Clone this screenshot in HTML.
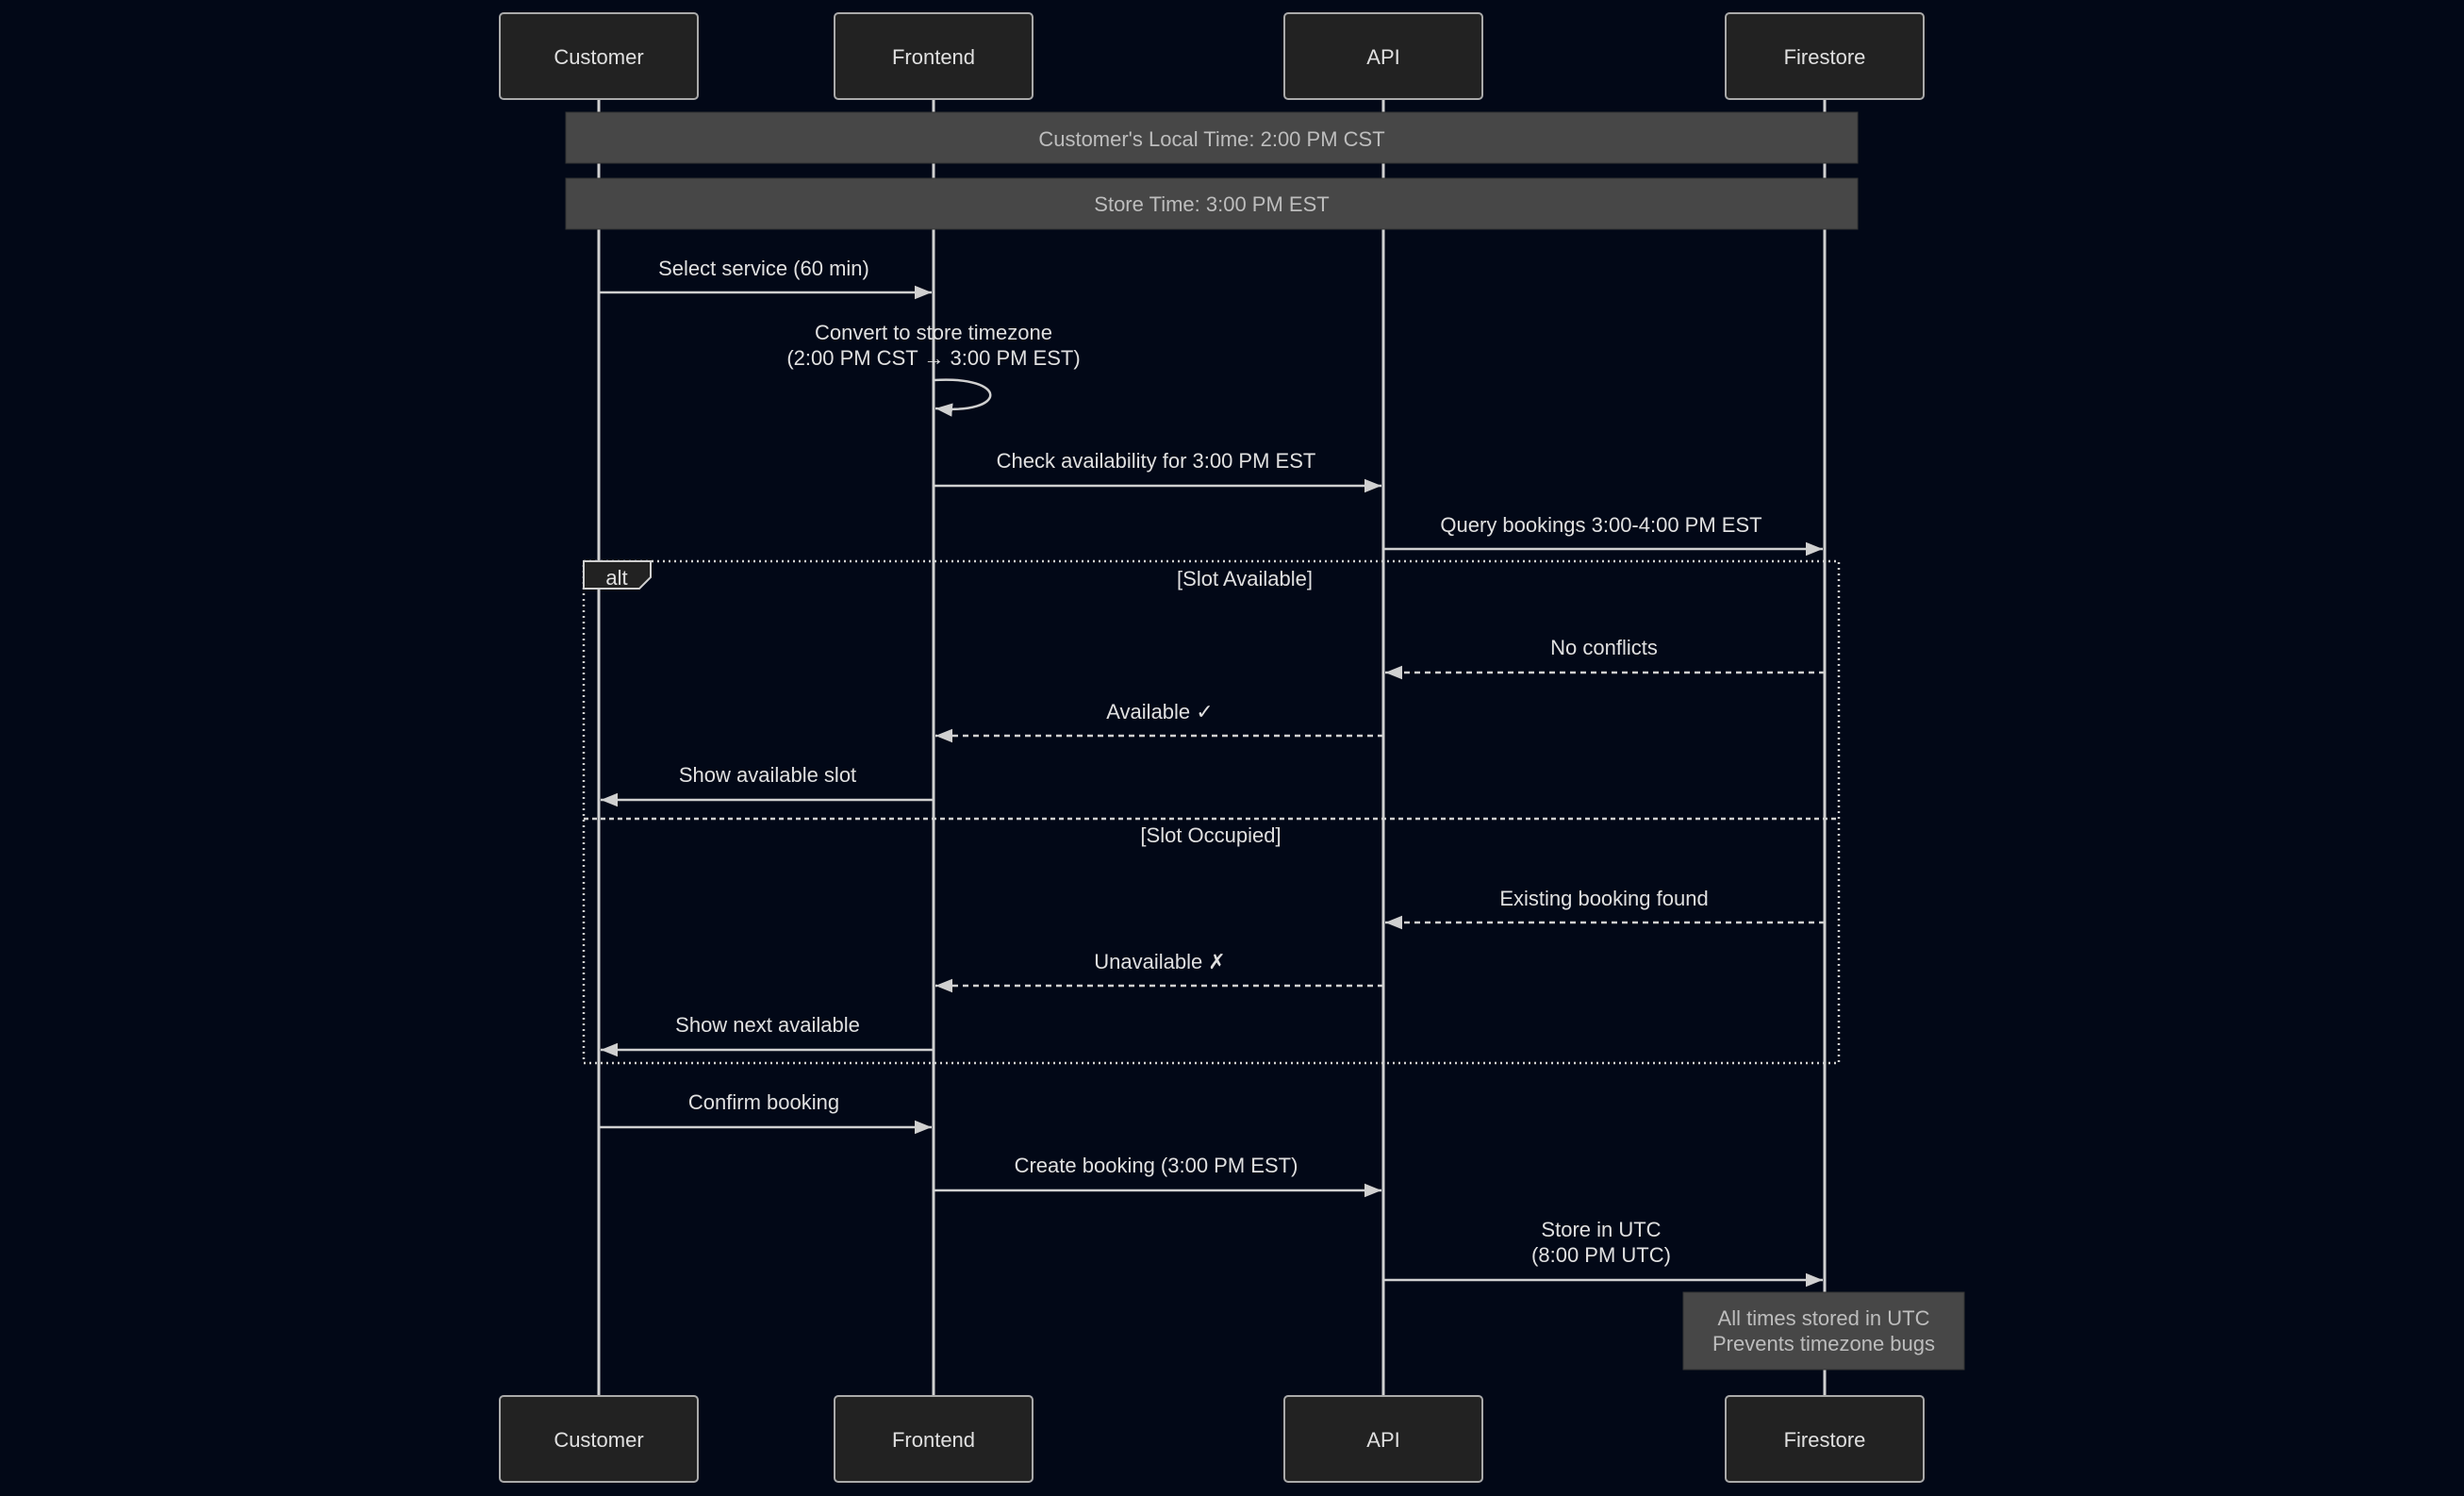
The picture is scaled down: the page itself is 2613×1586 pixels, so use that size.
<!DOCTYPE html>
<html><head><meta charset="utf-8"><style>
html,body{margin:0;padding:0;background:#020817;}
svg{display:block}
text{font-family:"Liberation Sans","DejaVu Sans",sans-serif;font-size:22px;fill:#e0e0e0;text-anchor:middle;}
.n{fill:#bdbdbd}
</style></head><body>
<svg width="2613" height="1586" viewBox="0 0 2613 1586" xmlns="http://www.w3.org/2000/svg">
<defs>
<marker id="b" viewBox="0 0 20 20" refX="20" refY="10" markerWidth="18" markerHeight="18" markerUnits="userSpaceOnUse" orient="auto"><path d="M0,2L20,10L0,18z" fill="#d0d0d0"/></marker>
</defs>
<rect width="2613" height="1586" fill="#020817"/>
<g stroke="#d0d0d0" stroke-width="3">
<line x1="635" y1="105" x2="635" y2="1480"/>
<line x1="990" y1="105" x2="990" y2="1480"/>
<line x1="1467" y1="105" x2="1467" y2="1480"/>
<line x1="1935" y1="105" x2="1935" y2="1480"/>
</g>
<g fill="#222222" stroke="#aaaaaa" stroke-width="2">
<rect x="530" y="14" width="210" height="91" rx="4"/>
<rect x="885" y="14" width="210" height="91" rx="4"/>
<rect x="1362" y="14" width="210" height="91" rx="4"/>
<rect x="1830" y="14" width="210" height="91" rx="4"/>
<rect x="530" y="1480" width="210" height="91" rx="4"/>
<rect x="885" y="1480" width="210" height="91" rx="4"/>
<rect x="1362" y="1480" width="210" height="91" rx="4"/>
<rect x="1830" y="1480" width="210" height="91" rx="4"/>
</g>
<text x="635" y="68">Customer</text><text x="990" y="68">Frontend</text><text x="1467" y="68">API</text><text x="1935" y="68">Firestore</text>
<text x="635" y="1534">Customer</text><text x="990" y="1534">Frontend</text><text x="1467" y="1534">API</text><text x="1935" y="1534">Firestore</text>
<rect x="600" y="119" width="1370" height="54" fill="#474747" stroke="#333" stroke-width="1"/>
<text class="n" x="1285" y="155">Customer's Local Time: 2:00 PM CST</text>
<rect x="600" y="189" width="1370" height="54" fill="#474747" stroke="#333" stroke-width="1"/>
<text class="n" x="1285" y="224">Store Time: 3:00 PM EST</text>
<g stroke="#d0d0d0" stroke-width="2.5" fill="none">
<line x1="635" y1="310" x2="988" y2="310" marker-end="url(#b)"/>
<path d="M990,403 C1070,398 1070,440 992,433" marker-end="url(#b)"/>
<line x1="990" y1="515" x2="1465" y2="515" marker-end="url(#b)"/>
<line x1="1467" y1="582" x2="1933" y2="582" marker-end="url(#b)"/>
<line x1="1935" y1="713" x2="1469" y2="713" stroke-dasharray="6,5" marker-end="url(#b)"/>
<line x1="1467" y1="780" x2="992" y2="780" stroke-dasharray="6,5" marker-end="url(#b)"/>
<line x1="990" y1="848" x2="637" y2="848" marker-end="url(#b)"/>
<line x1="1935" y1="978" x2="1469" y2="978" stroke-dasharray="6,5" marker-end="url(#b)"/>
<line x1="1467" y1="1045" x2="992" y2="1045" stroke-dasharray="6,5" marker-end="url(#b)"/>
<line x1="990" y1="1113" x2="637" y2="1113" marker-end="url(#b)"/>
<line x1="635" y1="1195" x2="988" y2="1195" marker-end="url(#b)"/>
<line x1="990" y1="1262" x2="1465" y2="1262" marker-end="url(#b)"/>
<line x1="1467" y1="1357" x2="1933" y2="1357" marker-end="url(#b)"/>
</g>
<text x="810" y="292">Select service (60 min)</text>
<text x="990" y="360">Convert to store timezone</text>
<text x="990" y="387">(2:00 PM CST → 3:00 PM EST)</text>
<text x="1226" y="496">Check availability for 3:00 PM EST</text>
<text x="1698" y="564">Query bookings 3:00-4:00 PM EST</text>
<text x="1701" y="694">No conflicts</text>
<text x="1230" y="762">Available ✓</text>
<text x="814" y="829">Show available slot</text>
<text x="1701" y="960">Existing booking found</text>
<text x="1230" y="1027">Unavailable ✗</text>
<text x="814" y="1094">Show next available</text>
<text x="810" y="1176">Confirm booking</text>
<text x="1226" y="1243">Create booking (3:00 PM EST)</text>
<text x="1698" y="1311">Store in UTC</text>
<text x="1698" y="1338">(8:00 PM UTC)</text>
<rect x="619" y="595" width="1331" height="532" fill="none" stroke="#d0d0d0" stroke-width="2.5" stroke-dasharray="2,4"/>
<line x1="619" y1="868" x2="1950" y2="868" stroke="#d0d0d0" stroke-width="2.5" stroke-dasharray="5,4"/>
<path d="M619,595 L690,595 L690,612 L678,624 L619,624 Z" fill="#222222" stroke="#d0d0d0" stroke-width="2"/>
<text x="654" y="620">alt</text>
<text x="1320" y="621">[Slot Available]</text>
<text x="1284" y="893">[Slot Occupied]</text>
<rect x="1785" y="1370" width="298" height="82" fill="#474747" stroke="#333" stroke-width="1"/>
<text class="n" x="1934" y="1405">All times stored in UTC</text>
<text class="n" x="1934" y="1432">Prevents timezone bugs</text>
</svg>
</body></html>
